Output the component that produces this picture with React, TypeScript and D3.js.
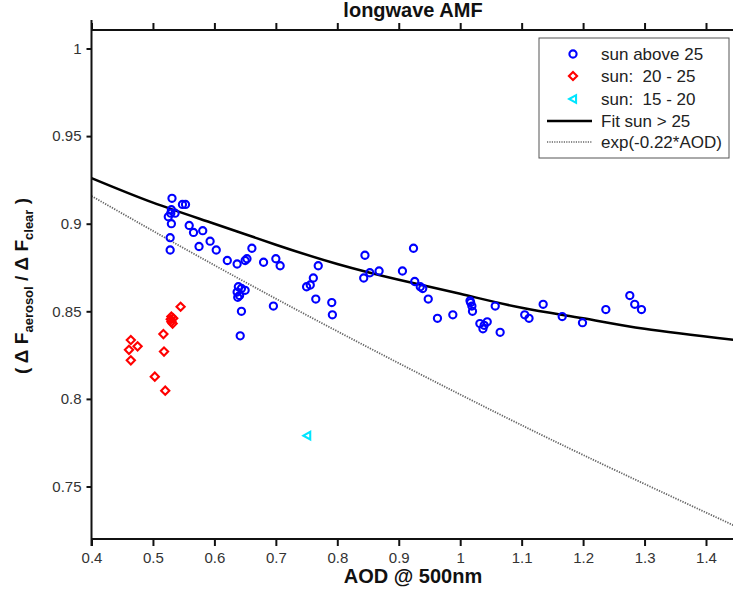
import React, { useEffect, useRef } from 'react';
import * as d3 from 'd3';

// sun above 25 (blue circles)
const blueAod = [0.531, 0.548, 0.553, 0.525, 0.529, 0.536, 0.530, 0.530, 0.528, 0.528, 0.559, 0.566, 0.581, 0.575, 0.593, 0.603, 0.621, 0.637, 0.650, 0.653, 0.661, 0.680, 0.700, 0.707, 0.639, 0.644, 0.650, 0.637, 0.641, 0.638, 0.644, 0.642, 0.696, 0.750, 0.756, 0.761, 0.769, 0.765, 0.791, 0.792, 0.845, 0.843, 0.853, 0.868, 0.924, 0.906, 0.926, 0.935, 0.939, 0.948, 0.963, 0.988, 1.016, 1.017, 1.019, 1.020, 1.032, 1.037, 1.039, 1.044, 1.057, 1.065, 1.105, 1.112, 1.135, 1.166, 1.199, 1.237, 1.276, 1.284, 1.295];
const blueVal = [0.9145, 0.911, 0.911, 0.904, 0.906, 0.906, 0.908, 0.900, 0.892, 0.885, 0.899, 0.895, 0.896, 0.887, 0.890, 0.885, 0.879, 0.877, 0.879, 0.880, 0.886, 0.878, 0.880, 0.876, 0.864, 0.863, 0.862, 0.861, 0.859, 0.858, 0.850, 0.836, 0.853, 0.864, 0.865, 0.869, 0.876, 0.857, 0.855, 0.848, 0.882, 0.869, 0.872, 0.873, 0.886, 0.873, 0.867, 0.864, 0.863, 0.857, 0.846, 0.848, 0.856, 0.855, 0.853, 0.850, 0.843, 0.840, 0.842, 0.844, 0.853, 0.838, 0.848, 0.846, 0.854, 0.847, 0.8435, 0.851, 0.859, 0.854, 0.851];

// sun 20 - 25 (red diamonds)
const redAod = [0.464, 0.461, 0.475, 0.464, 0.517, 0.518, 0.503, 0.520, 0.545, 0.530, 0.533, 0.530, 0.532, 0.529];
const redVal = [0.8336, 0.828, 0.830, 0.822, 0.837, 0.827, 0.8127, 0.8047, 0.8526, 0.847, 0.846, 0.844, 0.843, 0.8454];

// sun 15 - 20 (cyan triangle)
const cyanAod = [0.751];
const cyanVal = [0.779];

// fit sun > 25
const fitAod = [0.4, 0.5, 0.6, 0.7, 0.8, 0.9, 1.0, 1.1, 1.2, 1.3, 1.45];
const fitVal = [0.926, 0.912, 0.900, 0.888, 0.877, 0.868, 0.860, 0.852, 0.846, 0.840, 0.8335];

// exp(-0.22*AOD) reference line
const expAod = [0.4, 0.6, 0.8, 1.0, 1.2, 1.45];
const expVal = [0.9158, 0.8763, 0.8386, 0.8025, 0.7680, 0.7270];

const xTicks = [0.4, 0.5, 0.6, 0.7, 0.8, 0.9, 1.0, 1.1, 1.2, 1.3, 1.4];
const yTicks = [0.75, 0.8, 0.85, 0.9, 0.95, 1];

const legendLabels = ['sun above 25', 'sun:  20 - 25', 'sun:  15 - 20', 'Fit sun > 25', 'exp(-0.22*AOD)'];

const W = 733;
const H = 597;
const FONT = '"Liberation Sans", Arial, Helvetica, sans-serif';

const left = 91.5, top = 30, bottom = 539;

const x = d3.scaleLinear().domain([0.4, 1.5]).range([left, left + 675.95]);
const y = d3.scaleLinear().domain([0.75, 1]).range([486.5, 48.5]);

const fmt = (d: number) => String(+d.toFixed(2));

function diamond(cx: number, cy: number, r: number) {
  return `M${cx},${cy - r}L${cx + r},${cy}L${cx},${cy + r}L${cx - r},${cy}Z`;
}
function triLeft(cx: number, cy: number, r: number) {
  return `M${cx - r},${cy}L${cx + r * 0.8},${cy - r}L${cx + r * 0.8},${cy + r}Z`;
}

export default function App() {
  const bottomRef = useRef<SVGGElement>(null);
  const topRef = useRef<SVGGElement>(null);
  const leftRef = useRef<SVGGElement>(null);

  useEffect(() => {
    const style = (g: d3.Selection<SVGGElement, unknown, null, undefined>) => {
      g.select('.domain').attr('stroke', '#111').attr('stroke-width', 2);
      g.selectAll('.tick line').attr('stroke', '#111').attr('stroke-width', 2);
      g.selectAll('.tick text').attr('fill', '#333').style('font-family', FONT).style('font-size', '15px');
    };

    const gb = d3.select(bottomRef.current!);
    gb.call(d3.axisBottom(x).tickValues(xTicks).tickFormat((d) => fmt(+d)).tickSize(7).tickSizeOuter(0).tickPadding(6));
    style(gb);
    gb.select('.domain').attr('d', `M${left},0H${W + 5}`);

    const gt = d3.select(topRef.current!);
    gt.call(d3.axisTop(x).tickValues(xTicks).tickFormat(() => '').tickSize(7).tickSizeOuter(0));
    style(gt);
    gt.select('.domain').attr('d', `M${left},0H${W + 5}`);

    const gl = d3.select(leftRef.current!);
    gl.call(d3.axisLeft(y).tickValues(yTicks).tickFormat((d) => fmt(+d)).tickSize(5).tickSizeOuter(0).tickPadding(5));
    style(gl);
    gl.select('.domain').attr('d', `M0,${top - 10}V${bottom + 7}`);
  }, []);

  const fitLine = d3.line<number>().x((d) => x(d)).y((_, i) => y(fitVal[i])).curve(d3.curveNatural)(fitAod);
  const expLine = d3.line<number>().x((d) => x(d)).y((_, i) => y(expVal[i])).curve(d3.curveNatural)(expAod);

  const lgX = 539, lgY = 38, lgW = 190, lgH = 120;
  const rowY = [54, 76, 99, 121, 142];
  const mx = 573;

  return (
    <div style={{ position: 'fixed', left: 0, top: 0 }}>
      <svg width={W} height={H} style={{ display: 'block', background: '#fff' }}>
        <rect x={0} y={0} width={W} height={H} fill="#fff" />

        <text x={413} y={17} textAnchor="middle" fontFamily={FONT} fontWeight="bold" fontSize={20} fill="#111">
          longwave AMF
        </text>

        <path d={expLine ?? ''} fill="none" stroke="#666" strokeWidth={1.8} strokeDasharray="1.3,1.3" />
        <path d={fitLine ?? ''} fill="none" stroke="#000" strokeWidth={2.5} />

        {blueAod.map((a, i) => (
          <circle key={'b' + i} cx={x(a)} cy={y(blueVal[i])} r={3.6} fill="none" stroke="#0000ff" strokeWidth={2.1} />
        ))}
        {redAod.map((a, i) => (
          <path key={'r' + i} d={diamond(x(a), y(redVal[i]), 4.1)} fill="none" stroke="#ff0000" strokeWidth={2.1} />
        ))}
        {cyanAod.map((a, i) => (
          <path key={'c' + i} d={triLeft(x(a), y(cyanVal[i]), 3.8)} fill="none" stroke="#00e5ff" strokeWidth={2.1} />
        ))}

        <g ref={bottomRef} transform={`translate(0,${bottom})`} />
        <g ref={topRef} transform={`translate(0,${top})`} />
        <g ref={leftRef} transform={`translate(${left},0)`} />

        <text x={413} y={583} textAnchor="middle" fontFamily={FONT} fontWeight="bold" fontSize={20} fill="#111">
          AOD @ 500nm
        </text>

        <g transform="translate(28,286) rotate(-90)">
          <text textAnchor="middle" fontFamily={FONT} fontWeight="bold" fontSize={19} fill="#111">
            {'( Δ F'}
            <tspan fontSize={13} dy={5}>aerosol</tspan>
            <tspan dy={-5}>{' / Δ F'}</tspan>
            <tspan fontSize={13} dy={5}>clear</tspan>
            <tspan dy={-5}>{' )'}</tspan>
          </text>
        </g>

        <g>
          <rect x={lgX} y={lgY} width={lgW} height={lgH} fill="#fff" stroke="#555" strokeWidth={1} />
          <circle cx={mx} cy={rowY[0]} r={3.6} fill="none" stroke="#0000ff" strokeWidth={2.1} />
          <path d={diamond(mx, rowY[1], 4.1)} fill="none" stroke="#ff0000" strokeWidth={2.1} />
          <path d={triLeft(mx, rowY[2], 3.8)} fill="none" stroke="#00e5ff" strokeWidth={2.1} />
          <line x1={547} x2={592} y1={rowY[3]} y2={rowY[3]} stroke="#000" strokeWidth={2.5} />
          <line x1={547} x2={592} y1={rowY[4]} y2={rowY[4]} stroke="#666" strokeWidth={1.5} strokeDasharray="1.2,1.2" />
          {legendLabels.map((t, i) => (
            <text key={t} x={601} y={rowY[i] + 6} fontFamily={FONT} fontSize={17} fill="#222" style={{ whiteSpace: 'pre' }}>
              {t}
            </text>
          ))}
        </g>
      </svg>
    </div>
  );
}
